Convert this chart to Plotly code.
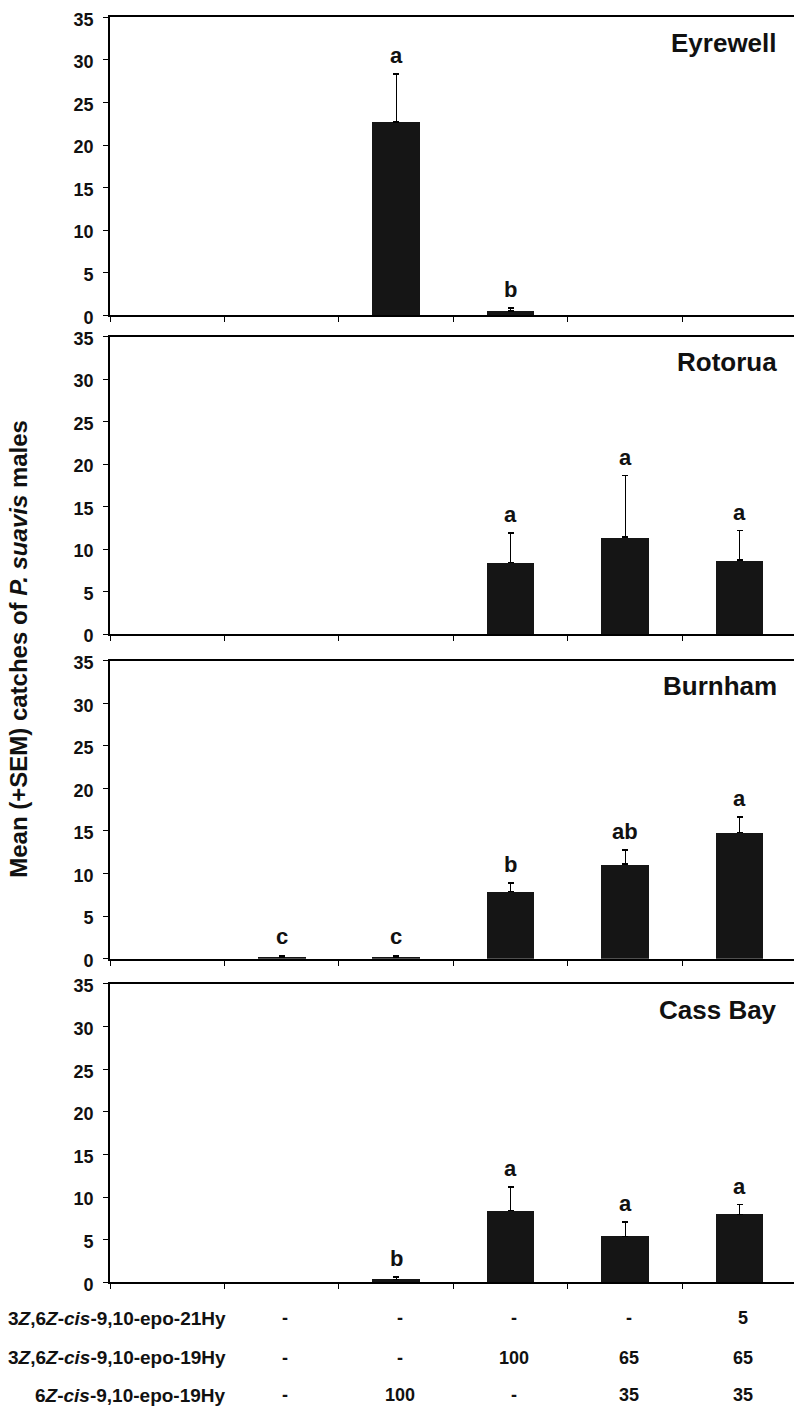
import plotly.graph_objects as go

# ---------------- data ----------------
categories = [0, 1, 2, 3, 4, 5]
sites = ["Eyrewell", "Rotorua", "Burnham", "Cass Bay"]

eyrewell_mean = [0, 0, 22.7, 0.5, 0, 0]
eyrewell_sem = [0, 0, 5.65, 0.35, 0, 0]
eyrewell_letters = ["", "", "a", "b", "", ""]

rotorua_mean = [0, 0, 0, 8.4, 11.4, 8.7]
rotorua_sem = [0, 0, 0, 3.5, 7.25, 3.45]
rotorua_letters = ["", "", "", "a", "a", "a"]

burnham_mean = [0, 0.2, 0.2, 7.9, 11.1, 14.85]
burnham_sem = [0, 0.2, 0.2, 1.0, 1.65, 1.8]
burnham_letters = ["", "c", "c", "b", "ab", "a"]

cassbay_mean = [0, 0, 0.35, 8.4, 5.4, 8.0]
cassbay_sem = [0, 0, 0.3, 2.8, 1.7, 1.1]
cassbay_letters = ["", "", "b", "a", "a", "a"]

means = [eyrewell_mean, rotorua_mean, burnham_mean, cassbay_mean]
sems = [eyrewell_sem, rotorua_sem, burnham_sem, cassbay_sem]
letters = [eyrewell_letters, rotorua_letters, burnham_letters, cassbay_letters]

table_rows = [
    "3<i>Z</i>,6<i>Z</i>-<i>cis</i>-9,10-epo-21Hy",
    "3<i>Z</i>,6<i>Z</i>-<i>cis</i>-9,10-epo-19Hy",
    "6<i>Z</i>-<i>cis</i>-9,10-epo-19Hy",
]
table_cols = [1, 2, 3, 4, 5]
table_values = [
    ["-", "-", "-", "-", "5"],
    ["-", "-", "100", "65", "65"],
    ["-", "100", "-", "35", "35"],
]

y_ticks = [0, 5, 10, 15, 20, 25, 30, 35]

# ---------------- layout geometry ----------------
W, H = 794, 1414
left_px = 110
panels_px = [(9.5, 311.7), (333.3, 635.0), (662.0, 964.3), (990.0, 1292.7)]
table_y_px = [1329, 1369, 1407]
FONT = "Liberation Sans, Arial, Helvetica, sans-serif"
BAR = "#151515"
TXT = "#111"

fig = go.Figure()

for i, site in enumerate(sites):
    xa = "x" if i == 0 else f"x{i+1}"
    ya = "y" if i == 0 else f"y{i+1}"
    xs = [c for c, v in zip(categories, means[i]) if v > 0]
    ys = [v for v in means[i] if v > 0]
    es = [e for v, e in zip(means[i], sems[i]) if v > 0]
    fig.add_trace(go.Bar(
        x=xs, y=ys, width=0.415, xaxis=xa, yaxis=ya,
        marker=dict(color=BAR, line=dict(width=0)),
        error_y=dict(type="data", array=es, arrayminus=[0] * len(es),
                     symmetric=False, color="black", thickness=1.3, width=3),
        showlegend=False, hoverinfo="skip",
    ))
    top, bot = panels_px[i]
    dom = [1 - bot / H, 1 - top / H]
    kx = "xaxis" if i == 0 else f"xaxis{i+1}"
    ky = "yaxis" if i == 0 else f"yaxis{i+1}"
    fig.layout[kx] = dict(
        domain=[left_px / W, 1], range=[-0.5, 5.474], anchor=ya,
        tickmode="array", tickvals=[-0.5, 0.5, 1.5, 2.5, 3.5, 4.5],
        showticklabels=False, ticks="outside", ticklen=5, tickwidth=1.3,
        tickcolor="black", showline=True, linecolor="black", linewidth=1.8,
        mirror=True, showgrid=False, zeroline=False, fixedrange=True,
    )
    fig.layout[ky] = dict(
        domain=dom, range=[0, 35], anchor=xa,
        tickmode="array", tickvals=y_ticks,
        ticks="outside", ticklen=5, tickwidth=1.3, tickcolor="black",
        showline=True, linecolor="black", linewidth=1.8,
        showgrid=False, zeroline=False, fixedrange=True,
        ticklabelstandoff=6, ticklabelshift=2,
        tickfont=dict(family=FONT, size=18, color=TXT, weight="bold"),
    )
    # site name
    fig.add_annotation(
        xref="paper", yref="paper", x=779 / W, y=1 - (top + 26) / H,
        text=site, showarrow=False, xanchor="right", yanchor="middle",
        font=dict(family=FONT, size=26, color=TXT, weight="bold"),
    )
    # significance letters
    for c, v, e, L in zip(categories, means[i], sems[i], letters[i]):
        if L:
            fig.add_annotation(
                xref=xa, yref=ya, x=c, y=v + e, text=L, showarrow=False,
                xanchor="center", yanchor="bottom", yshift=4,
                font=dict(family=FONT, size=22, color=TXT, weight="bold"),
            )

# y-axis title
fig.add_annotation(
    xref="paper", yref="paper", x=19 / W, y=1 - 650 / H,
    text="Mean (+SEM) catches of <i>P. suavis</i> males", textangle=-90,
    showarrow=False, xanchor="center", yanchor="middle",
    font=dict(family=FONT, size=24, color=TXT, weight="bold"),
)

# composition table
for r, (label, vals) in enumerate(zip(table_rows, table_values)):
    ypp = 1 - table_y_px[r] / H
    fig.add_annotation(
        xref="paper", yref="paper", x=228 / W, y=ypp, text=label,
        showarrow=False, xanchor="right", yanchor="middle",
        font=dict(family=FONT, size=19, color=TXT, weight="bold"),
    )
    for c, t in zip(table_cols, vals):
        fig.add_annotation(
            xref="x4", yref="paper", x=c + 0.03, y=ypp, text=t,
            showarrow=False, xanchor="center", yanchor="middle",
            font=dict(family=FONT, size=18, color=TXT, weight="bold"),
        )

fig.update_layout(
    width=W, height=H, margin=dict(l=0, r=0, t=0, b=0),
    paper_bgcolor="white", plot_bgcolor="white", bargap=0,
)

fig.write_html("out.html")
